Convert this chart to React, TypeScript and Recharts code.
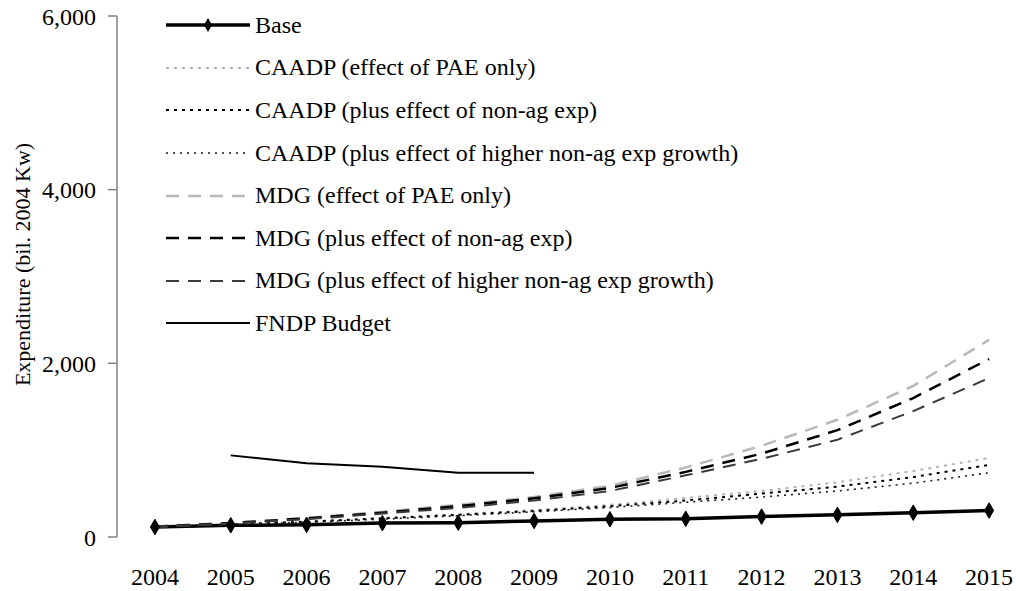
import React from "react";
import { LineChart, Line, XAxis, YAxis, Legend, Symbols } from "recharts";

const FONT = "'Liberation Serif', 'Times New Roman', serif";

const years = [2004, 2005, 2006, 2007, 2008, 2009, 2010, 2011, 2012, 2013, 2014, 2015];
const base = [115, 135, 140, 160, 165, 185, 205, 210, 235, 255, 280, 305];
const caadpPae = [120, 150, 180, 220, 260, 310, 370, 450, 530, 630, 760, 910];
const caadpNonAg = [120, 145, 175, 215, 255, 300, 355, 420, 500, 580, 690, 830];
const caadpHigher = [120, 140, 170, 205, 245, 290, 340, 400, 460, 530, 620, 740];
const mdgPae = [120, 160, 220, 290, 370, 460, 590, 800, 1050, 1350, 1740, 2270];
const mdgNonAg = [120, 160, 215, 280, 355, 445, 565, 750, 960, 1230, 1600, 2050];
const mdgHigher = [120, 155, 205, 270, 335, 420, 530, 710, 900, 1120, 1450, 1830];
const fndp = [null, 940, 850, 810, 740, 740, null, null, null, null, null, null];
const yTicks = [0, 2000, 4000, 6000];

const data = years.map((year, i) => ({
  year,
  base: base[i],
  caadpPae: caadpPae[i],
  caadpNonAg: caadpNonAg[i],
  caadpHigher: caadpHigher[i],
  mdgPae: mdgPae[i],
  mdgNonAg: mdgNonAg[i],
  mdgHigher: mdgHigher[i],
  fndp: fndp[i],
}));

// category boundaries, where Excel puts the tick marks
const edges = [...years.map((y) => y - 0.5), years[years.length - 1] + 0.5];

type S = { key: string; name: string; color: string; width: number; dash?: string; marker?: boolean };

const series: S[] = [
  { key: "base", name: "Base", color: "#000", width: 3.5, marker: true },
  { key: "caadpPae", name: "CAADP (effect of PAE only)", color: "#b3b3b3", width: 2, dash: "3 5" },
  { key: "caadpNonAg", name: "CAADP (plus effect of non-ag exp)", color: "#000", width: 2, dash: "3 5" },
  { key: "caadpHigher", name: "CAADP (plus effect of higher non-ag exp growth)", color: "#1a1a1a", width: 1.6, dash: "2 5" },
  { key: "mdgPae", name: "MDG (effect of PAE only)", color: "#b8b8b8", width: 2.5, dash: "13 9" },
  { key: "mdgNonAg", name: "MDG (plus effect of non-ag exp)", color: "#000", width: 2.5, dash: "13 9" },
  { key: "mdgHigher", name: "MDG (plus effect of higher non-ag exp growth)", color: "#3a3a3a", width: 2, dash: "13 9" },
  { key: "fndp", name: "FNDP Budget", color: "#000", width: 2 },
];

const Diamond = (props: any) => {
  const { cx, cy } = props;
  if (cx == null || cy == null) return null;
  return <Symbols cx={cx} cy={cy} type="diamond" size={70} fill="#000" stroke="#000" />;
};

const LegendBox = () => (
  <div style={{ fontFamily: FONT, fontSize: 24, color: "#000" }}>
    {series.map((s) => (
      <div key={s.key} style={{ display: "flex", alignItems: "center", height: 42.6, whiteSpace: "nowrap" }}>
        <svg width={84} height={20}>
          <line x1={0} x2={84} y1={10} y2={10} stroke={s.color} strokeWidth={s.width} strokeDasharray={s.dash} />
          {s.marker && <Symbols cx={42} cy={10} type="diamond" size={55} fill="#000" />}
        </svg>
        <span style={{ marginLeft: 5 }}>{s.name}</span>
      </div>
    ))}
  </div>
);

const YTitle = (props: any) => {
  const vb = props.viewBox || { y: 16, height: 521 };
  const cy = vb.y + vb.height / 2 - 12;
  return (
    <text x={22} y={cy} transform={`rotate(-90 22 ${cy})`} textAnchor="middle" dominantBaseline="central"
      style={{ fontFamily: FONT, fontSize: 22, fill: "#000" }}>
      Expenditure (bil. 2004 Kw)
    </text>
  );
};

export default function App() {
  return (
    <div style={{ position: "absolute", left: 0, top: 0, width: 1016, height: 591, overflow: "hidden", background: "#fff" }}>
      <LineChart width={1030} height={591} data={data} margin={{ top: 16, right: 3, left: 0, bottom: 0 }}>
        <XAxis xAxisId="edge" dataKey="year" type="number" domain={[2003.5, 2015.5]} ticks={edges}
          tick={false} tickSize={8} height={0} axisLine={{ stroke: "#808080", strokeWidth: 1.5 }}
          tickLine={{ stroke: "#808080", strokeWidth: 1.5 }} />
        <XAxis xAxisId="lab" dataKey="year" type="number" domain={[2003.5, 2015.5]} ticks={years}
          axisLine={false} tickLine={false} tickSize={0} tickMargin={31} height={54} interval={0}
          tick={{ fontFamily: FONT, fontSize: 24, fill: "#000" }} />
        <YAxis domain={[0, 6000]} ticks={yTicks} width={117} tickSize={9} tickMargin={12}
          tickFormatter={(v: number) => v.toLocaleString("en-US")}
          axisLine={{ stroke: "#808080", strokeWidth: 1.5 }} tickLine={{ stroke: "#808080", strokeWidth: 1.5 }}
          tick={{ fontFamily: FONT, fontSize: 24, fill: "#000" }} label={<YTitle />} />
        <Legend layout="vertical" align="center" verticalAlign="middle" content={<LegendBox />}
          wrapperStyle={{ left: 166, top: 4, width: "auto", height: "auto" }} />
        {series.map((s) => (
          <Line key={s.key} xAxisId="lab" dataKey={s.key} name={s.name} type="linear" stroke={s.color}
            strokeWidth={s.width} strokeDasharray={s.dash} dot={s.marker ? <Diamond /> : false}
            activeDot={false} isAnimationActive={false} connectNulls={false} />
        ))}
      </LineChart>
    </div>
  );
}
